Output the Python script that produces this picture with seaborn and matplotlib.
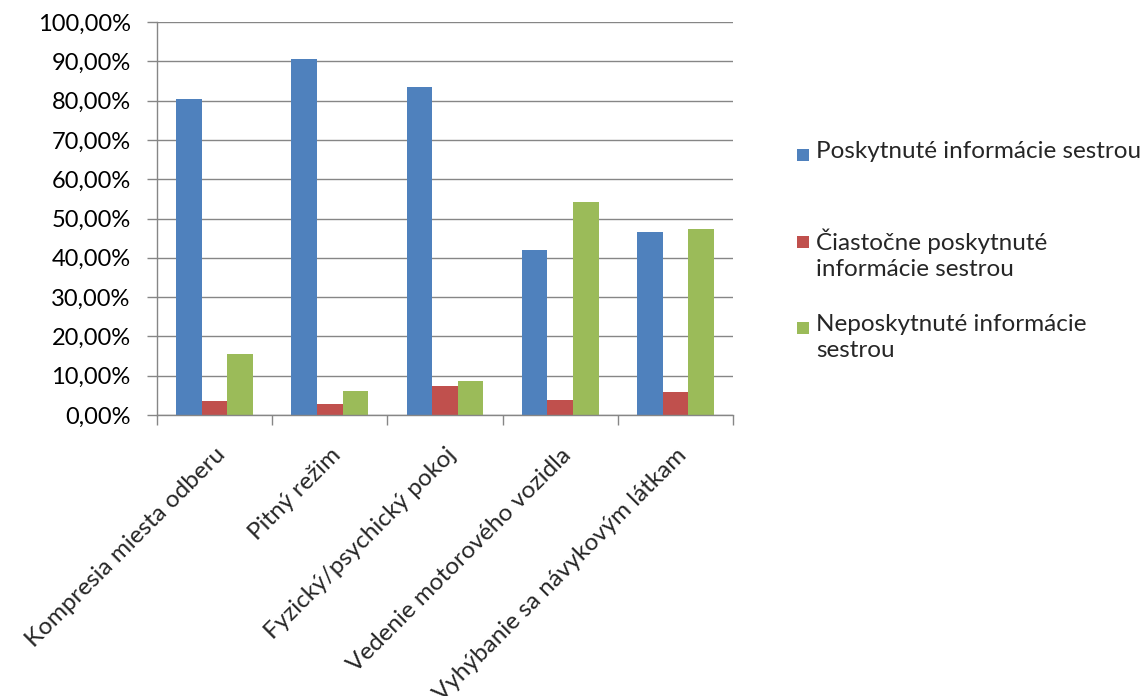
import matplotlib
matplotlib.use("Agg")
import matplotlib.pyplot as plt
import matplotlib.patches as mpatches
from matplotlib.ticker import FuncFormatter, MultipleLocator
import pandas as pd
import seaborn as sns

categories = [
    "Kompresia miesta odberu",
    "Pitný režim",
    "Fyzický/psychický pokoj",
    "Vedenie motorového vozidla",
    "Vyhýbanie sa návykovým látkam",
]
series_names = [
    "Poskytnuté informácie sestrou",
    "Čiastočne poskytnuté informácie sestrou",
    "Neposkytnuté informácie sestrou",
]
legend_labels = [
    "Poskytnuté informácie sestrou",
    "Čiastočne poskytnuté\ninformácie sestrou",
    "Neposkytnuté informácie\nsestrou",
]
poskytnute = [80.5, 90.6, 83.4, 42.0, 46.6]
ciastocne = [3.6, 2.8, 7.5, 3.7, 5.9]
neposkytnute = [15.5, 6.1, 8.7, 54.2, 47.4]
colors = ["#4F81BD", "#C0504D", "#9BBB59"]

rows = []
for name, vals in zip(series_names, [poskytnute, ciastocne, neposkytnute]):
    for cat, v in zip(categories, vals):
        rows.append({"kategoria": cat, "skupina": name, "hodnota": v})
df = pd.DataFrame(rows)

sns.set_style("white")
plt.rcParams["font.family"] = ["Lato", "DejaVu Sans"]
FS_Y = 17
FS = 17.5

fig = plt.figure(figsize=(11.47, 6.96), dpi=100)
ax = fig.add_axes([0.1369, 0.4037, 0.5022, 0.5647])

sns.barplot(
    data=df, x="kategoria", y="hodnota", hue="skupina",
    order=categories, hue_order=series_names, palette=colors,
    width=0.667, saturation=1, ax=ax, legend=False,
    edgecolor="none", linewidth=0,
)

grid_color = "#868686"
ax.set_ylim(0, 100)
ax.set_xlim(-0.5, len(categories) - 0.5)
ax.yaxis.set_major_locator(MultipleLocator(10))
ax.yaxis.set_major_formatter(
    FuncFormatter(lambda v, p: f"{v:.2f}".replace(".", ",") + "%")
)
ax.grid(axis="y", color=grid_color, linewidth=1.0)
ax.set_axisbelow(True)
for s in ["top", "right"]:
    ax.spines[s].set_visible(False)
for s in ["left", "bottom"]:
    ax.spines[s].set_color(grid_color)
    ax.spines[s].set_linewidth(1.0)

ax.set_xlabel("")
ax.set_ylabel("")
ax.tick_params(axis="y", which="major", left=True, length=7, width=1,
               color=grid_color, labelsize=FS_Y, labelcolor="black", pad=12)

# category boundary ticks on the x axis
ax.set_xticks([i - 0.5 for i in range(len(categories) + 1)], minor=False)
ax.set_xticklabels([])
ax.set_xticks(range(len(categories)), minor=True)
ax.set_xticklabels(categories, minor=True, rotation=45, ha="right",
                   rotation_mode="anchor", fontsize=FS)
ax.tick_params(axis="x", which="major", bottom=True, length=7, width=1,
               color=grid_color)
ax.tick_params(axis="x", which="minor", bottom=False, length=0, pad=21)

# legend on the right
fig_w, fig_h = fig.get_size_inches() * fig.dpi
entries_y = [155, 242, 328]
for lbl, col, y in zip(legend_labels, colors, entries_y):
    sq = 12
    fig.patches.append(mpatches.Rectangle(
        (797 / fig_w, 1 - (y + sq / 2) / fig_h), sq / fig_w, sq / fig_h,
        transform=fig.transFigure, facecolor=col, edgecolor="none"))
    fig.text(816 / fig_w, 1 - (y - 14) / fig_h, lbl, fontsize=FS,
             va="top", ha="left", linespacing=1.3)

fig.savefig("out.png", dpi=100, facecolor="white")
